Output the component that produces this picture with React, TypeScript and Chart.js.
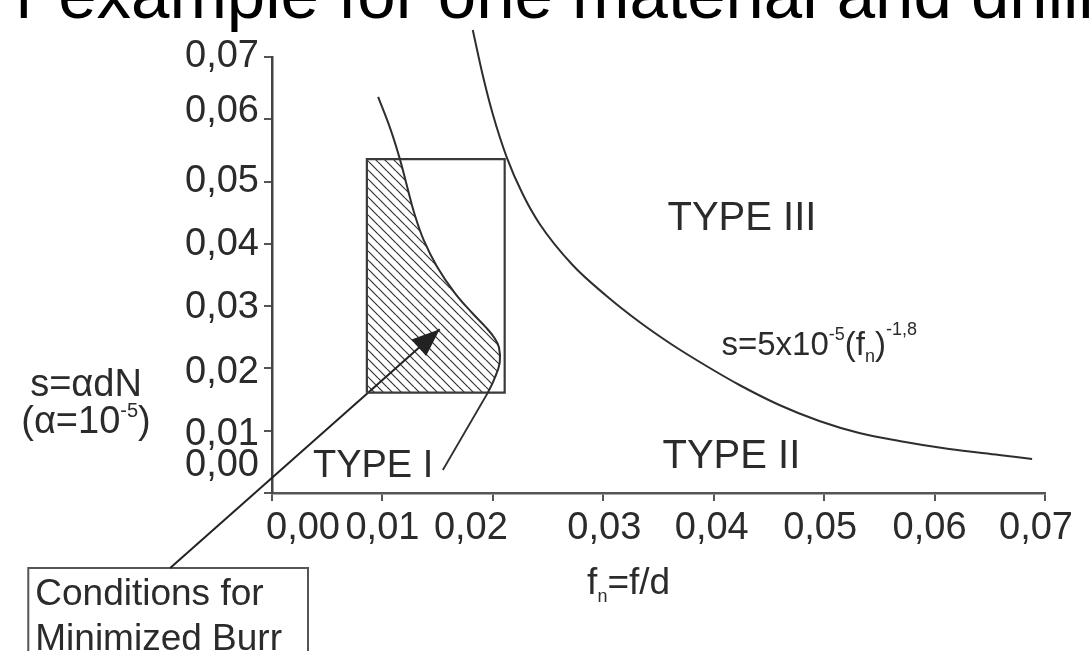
import React, { useEffect, useRef } from 'react';
import { Chart, registerables } from 'chart.js';

Chart.register(...registerables);

const FAMILY = '"Liberation Sans", Arial, Helvetica, sans-serif';

// Axis ticks
const tickValues = [0, 0.01, 0.02, 0.03, 0.04, 0.05, 0.06, 0.07];
const tickLabels = ['0,00', '0,01', '0,02', '0,03', '0,04', '0,05', '0,06', '0,07'];
// hand-placed label nudges of the original figure (pixels)
const xLabelNudge = [31, 0, -22, 1, -2, -4, -5, -9];
const yLabelNudge = [-27, 4, 4, 1, 1, 0, -8, 0];

// s = 5x10^-5 (fn)^-1,8 curve
const powerCurveX = [0.01818, 0.01908, 0.01999, 0.02125, 0.0227, 0.02424, 0.02722, 0.0303, 0.03328, 0.03627, 0.03934, 0.04233, 0.04594, 0.04956, 0.05318, 0.0568, 0.06132, 0.06584, 0.06883];
const powerCurveS = [0.07433, 0.06711, 0.06085, 0.05394, 0.048, 0.04319, 0.0366, 0.03163, 0.02745, 0.02376, 0.02039, 0.01734, 0.01413, 0.01156, 0.00963, 0.00835, 0.00706, 0.0061, 0.00546];

// Type I boundary curve
const boundaryX = [0.00961, 0.01075, 0.01158, 0.01225, 0.01287, 0.01374, 0.01496, 0.01656, 0.01813, 0.01937, 0.0201, 0.02055, 0.02062, 0.02008, 0.01954];
const boundaryS = [0.0636, 0.0583, 0.0536, 0.0491, 0.045, 0.0406, 0.0363, 0.0321, 0.0289, 0.0266, 0.025, 0.0234, 0.0209, 0.0181, 0.0161];

// Leader from boundary to "TYPE I" label
const leaderX = [0.01954, 0.01547];
const leaderS = [0.0161, 0.0037];

// Rectangle of working conditions
const boxX = [0.00859, 0.02107];
const boxS = [0.0161, 0.0536];

// Hatched region (minimized burr)
const hatchX = [0.00859, 0.01158, 0.01225, 0.01287, 0.01374, 0.01496, 0.01656, 0.01813, 0.01937, 0.0201, 0.02055, 0.02062, 0.02008, 0.01954, 0.00859];
const hatchS = [0.0536, 0.0536, 0.0491, 0.045, 0.0406, 0.0363, 0.0321, 0.0289, 0.0266, 0.025, 0.0234, 0.0209, 0.0181, 0.0161, 0.0161];

// Arrow from callout to region
const arrowX = [-0.00922, 0.01519];
const arrowS = [-0.01204, 0.0263];

// Callout box
const calloutX = [-0.02207, 0.00326];
const calloutS = [-0.0275, -0.01204];

const TEXT = '#2b2b2b';
const LINE = '#2e2e2e';

type Seg = { text: string; size: number; dy?: number };

function drawRich(ctx: CanvasRenderingContext2D, x: number, y: number, segs: Seg[], align: 'left' | 'center' | 'right' = 'left') {
  let total = 0;
  const widths = segs.map((s) => {
    ctx.font = `${s.size}px ${FAMILY}`;
    const w = ctx.measureText(s.text).width;
    total += w;
    return w;
  });
  let cx = align === 'center' ? x - total / 2 : align === 'right' ? x - total : x;
  ctx.textAlign = 'left';
  ctx.textBaseline = 'alphabetic';
  segs.forEach((s, i) => {
    ctx.font = `${s.size}px ${FAMILY}`;
    ctx.fillText(s.text, cx, y + (s.dy || 0));
    cx += widths[i];
  });
}

const pts = (xs: number[], ys: number[]) => xs.map((x, i) => ({ x, y: ys[i] }));
const rect = (xs: number[], ys: number[]) => [
  { x: xs[0], y: ys[0] },
  { x: xs[1], y: ys[0] },
  { x: xs[1], y: ys[1] },
  { x: xs[0], y: ys[1] },
  { x: xs[0], y: ys[0] },
];

export default function App() {
  const ref = useRef<HTMLCanvasElement | null>(null);

  useEffect(() => {
    document.body.style.margin = '0';
    const canvas = ref.current;
    if (!canvas) return;

    const pc = document.createElement('canvas');
    const S = 9;
    pc.width = S;
    pc.height = S;
    const pctx = pc.getContext('2d')!;
    pctx.strokeStyle = '#333';
    pctx.lineWidth = 1.2;
    for (let k = -1; k <= 1; k++) {
      pctx.beginPath();
      pctx.moveTo(k * S, 0);
      pctx.lineTo(k * S + S, S);
      pctx.stroke();
    }
    const ctx0 = canvas.getContext('2d')!;
    const pattern = ctx0.createPattern(pc, 'repeat');

    const overlay = {
      id: 'overlay',
      beforeDatasetsDraw(chart: any) {
        const { ctx, scales } = chart;
        const xs = scales.x;
        const ys = scales.y;
        ctx.save();
        ctx.beginPath();
        hatchX.forEach((v, i) => {
          const px = xs.getPixelForValue(v);
          const py = ys.getPixelForValue(hatchS[i]);
          if (i === 0) ctx.moveTo(px, py);
          else ctx.lineTo(px, py);
        });
        ctx.closePath();
        ctx.fillStyle = pattern;
        ctx.fill();
        ctx.restore();
      },
      afterDatasetsDraw(chart: any) {
        const { ctx, scales } = chart;
        const xs = scales.x;
        const ys = scales.y;
        ctx.save();
        // arrow head
        const x0 = xs.getPixelForValue(arrowX[0]);
        const y0 = ys.getPixelForValue(arrowS[0]);
        const x1 = xs.getPixelForValue(arrowX[1]);
        const y1 = ys.getPixelForValue(arrowS[1]);
        const a = Math.atan2(y1 - y0, x1 - x0);
        const L = 28;
        const W = 11;
        const bx = x1 - L * Math.cos(a);
        const by = y1 - L * Math.sin(a);
        ctx.fillStyle = '#222';
        ctx.beginPath();
        ctx.moveTo(x1, y1);
        ctx.lineTo(bx - W * Math.sin(a), by + W * Math.cos(a));
        ctx.lineTo(bx + W * Math.sin(a), by - W * Math.cos(a));
        ctx.closePath();
        ctx.fill();

        ctx.fillStyle = TEXT;
        // tick labels (placed like the original figure)
        ctx.font = `38px ${FAMILY}`;
        ctx.textBaseline = 'middle';
        tickValues.forEach((v, i) => {
          ctx.textAlign = 'center';
          ctx.fillText(tickLabels[i], xs.getPixelForValue(v) + xLabelNudge[i], xs.bottom - 158 + 36);
          ctx.textAlign = 'right';
          ctx.fillText(tickLabels[i], chart.chartArea.left - 13, ys.getPixelForValue(v) + yLabelNudge[i]);
        });

        const P = (x: number, y: number) => [xs.getPixelForValue(x), ys.getPixelForValue(y)];
        let p = P(0.03581, 0.04222);
        drawRich(ctx, p[0], p[1], [{ text: 'TYPE III', size: 40 }]);
        p = P(0.0407, 0.02215);
        drawRich(ctx, p[0], p[1], [
          { text: 's=5x10', size: 33 },
          { text: '-5', size: 18, dy: -15 },
          { text: '(f', size: 33 },
          { text: 'n', size: 18, dy: 7 },
          { text: ')', size: 33 },
          { text: '-1,8', size: 18, dy: -20 },
        ]);
        p = P(0.03536, 0.00401);
        drawRich(ctx, p[0], p[1], [{ text: 'TYPE II', size: 40 }]);
        p = P(0.00371, 0.00257);
        drawRich(ctx, p[0], p[1], [{ text: 'TYPE I', size: 38 }]);

        // axis titles
        const cxL = chart.chartArea.left;
        drawRich(ctx, cxL - 186, 396, [{ text: 's=αdN', size: 38 }], 'center');
        drawRich(ctx, cxL - 186, 433, [
          { text: '(α=10', size: 38 },
          { text: '-5', size: 20, dy: -16 },
          { text: ')', size: 38 },
        ], 'center');
        drawRich(ctx, xs.getPixelForValue(0.0327) - 46, 594, [
          { text: 'f', size: 37 },
          { text: 'n', size: 18, dy: 8 },
          { text: '=f/d', size: 37 },
        ]);

        // callout text
        const cl = xs.getPixelForValue(calloutX[0]);
        drawRich(ctx, cl + 7, 605, [{ text: 'Conditions for', size: 37 }]);
        drawRich(ctx, cl + 7, 650, [{ text: 'Minimized Burr', size: 37 }]);

        // cut slide title at the top
        ctx.fillStyle = '#000';
        drawRich(ctx, 16, 18, [{ text: 'r example for one material and drilling', size: 69 }]);
        ctx.restore();
      },
    };

    const lineDs = (label: string, data: any[], extra: any = {}) => ({
      label,
      data,
      showLine: true,
      borderColor: LINE,
      borderWidth: 2,
      pointRadius: 0,
      fill: false,
      clip: false,
      tension: 0,
      ...extra,
    });

    const tickCb = (_v: any, i: number) => tickLabels[i];
    const setTicks = (scale: any) => {
      scale.ticks = tickValues.map((v) => ({ value: v }));
    };

    const chart = new Chart(canvas, {
      type: 'scatter',
      data: {
        datasets: [
          lineDs('s=5x10^-5(fn)^-1,8', pts(powerCurveX, powerCurveS), { cubicInterpolationMode: 'monotone' }),
          lineDs('Type I boundary', pts(boundaryX, boundaryS), { tension: 0.4 }),
          lineDs('Type I leader', pts(leaderX, leaderS), { borderWidth: 1.8 }),
          lineDs('Conditions box', rect(boxX, boxS), { borderColor: '#3a3a3a', borderWidth: 2.2 }),
          lineDs('Arrow', pts(arrowX, arrowS), { borderColor: '#222', borderWidth: 2 }),
          lineDs('Callout', rect(calloutX, calloutS), { borderColor: '#555', borderWidth: 2 }),
        ],
      },
      options: {
        animation: false,
        responsive: false,
        devicePixelRatio: 1,
        layout: { padding: { top: 57, right: 44, bottom: 0, left: 0 } },
        elements: { line: { capBezierPoints: false }, point: { radius: 0 } },
        plugins: {
          legend: { display: false },
          tooltip: { enabled: false },
          title: { display: false },
        },
        scales: {
          x: {
            type: 'linear',
            min: 0,
            max: 0.07,
            afterBuildTicks: setTicks,
            afterFit: (s: any) => {
              s.height = 158;
            },
            grid: { display: true, drawOnChartArea: false, drawTicks: true, tickLength: 8, color: '#555', lineWidth: 2 },
            border: { display: true, color: '#555', width: 2.5 },
            ticks: {
              callback: tickCb,
              color: 'rgba(0,0,0,0)',
              font: { size: 38, family: FAMILY },
              padding: 8,
              maxRotation: 0,
              autoSkip: false,
            },
          },
          y: {
            type: 'linear',
            min: 0,
            max: 0.07,
            afterBuildTicks: setTicks,
            afterFit: (s: any) => {
              s.width = 272;
            },
            grid: { display: true, drawOnChartArea: false, drawTicks: true, tickLength: 8, color: '#555', lineWidth: 2 },
            border: { display: true, color: '#444', width: 2.5 },
            ticks: {
              callback: tickCb,
              color: 'rgba(0,0,0,0)',
              font: { size: 38, family: FAMILY },
              padding: 5,
              autoSkip: false,
            },
          },
        },
      },
      plugins: [overlay],
    } as any);

    return () => chart.destroy();
  }, []);

  return (
    <div style={{ width: 1090, height: 651, background: '#fff', overflow: 'hidden' }}>
      <canvas ref={ref} width={1090} height={651} style={{ display: 'block' }} />
    </div>
  );
}
